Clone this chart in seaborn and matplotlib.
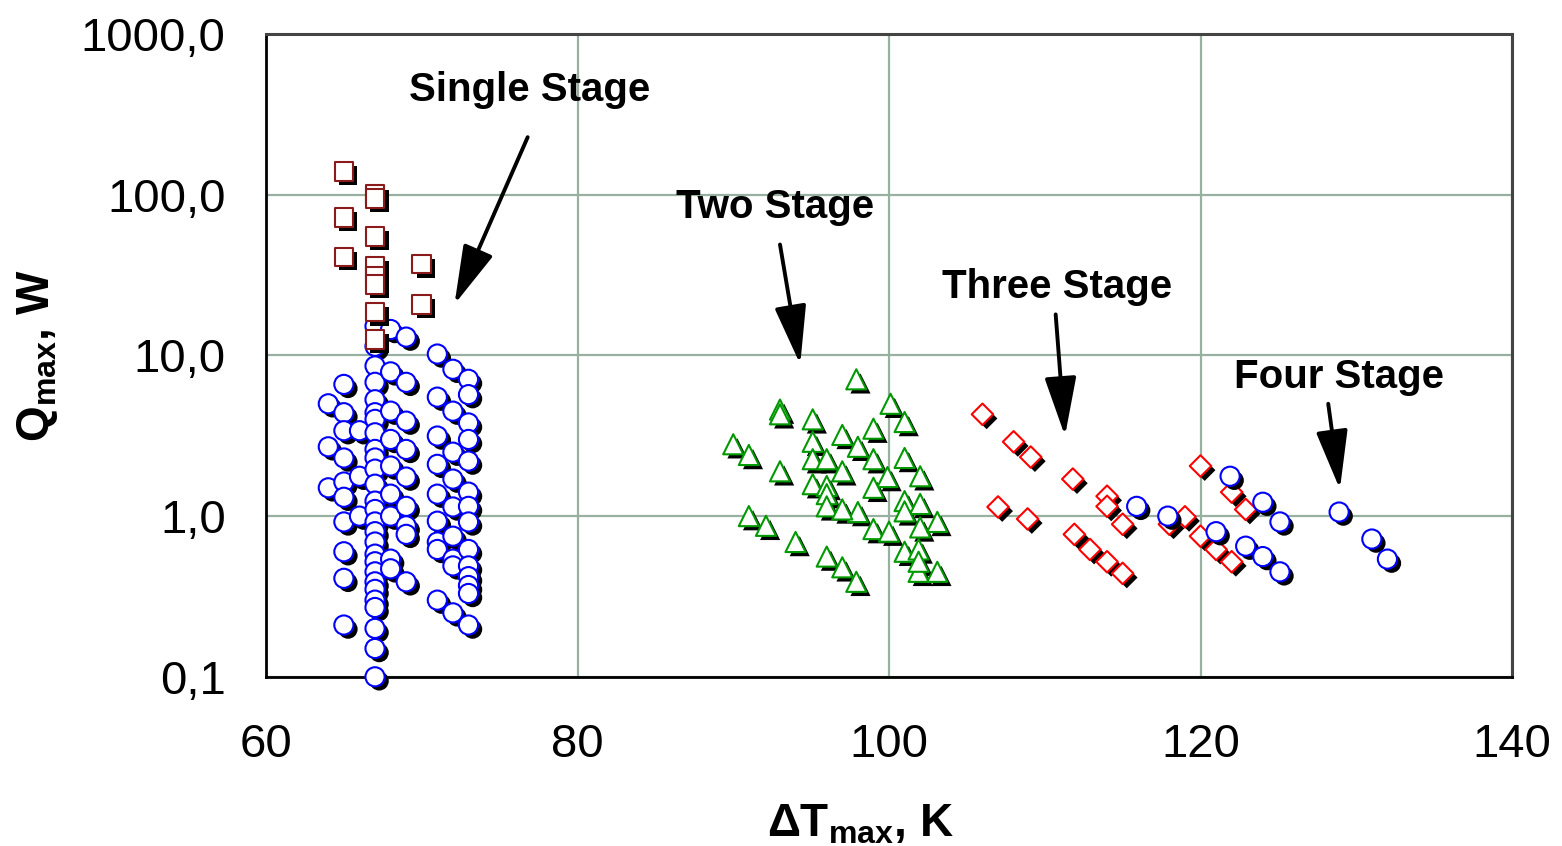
import matplotlib
matplotlib.use("Agg")
import matplotlib.pyplot as plt
import matplotlib.patheffects as pe
import seaborn as sns
import pandas as pd

# ---------------- data ----------------
# Single stage - squares (dark red)
sq_x = [65, 67, 67, 65, 67, 65, 67, 67, 67, 70, 70, 67, 67]
sq_y = [140, 100, 95, 72, 55, 41, 36, 31, 27.7, 37, 20.8, 18.6, 12.6]

# Single stage - circles (blue)
c64 = [5.0, 2.7, 1.5]
c65 = [6.6, 4.4, 3.4, 2.3, 1.63, 1.31, 0.92, 0.6, 0.41, 0.21]
c66 = [3.4, 1.77, 1.0]
c67 = [15.2, 11.4, 8.6, 6.8, 5.3, 4.4, 4.0, 3.3, 2.6, 2.3, 1.96, 1.58, 1.24,
       1.1, 0.92, 0.8, 0.69, 0.58, 0.52, 0.45, 0.39, 0.35, 0.30, 0.27, 0.20,
       0.15, 0.10]
c68 = [14.5, 7.9, 4.5, 3.0, 2.05, 1.37, 1.0, 0.54, 0.47]
c69 = [13.0, 6.8, 3.9, 2.6, 1.75, 1.15, 0.87, 0.77, 0.39]
c71 = [10.2, 5.5, 3.15, 2.1, 1.37, 0.93, 0.69, 0.62, 0.30]
c72 = [8.2, 4.5, 2.5, 1.7, 1.14, 0.75, 0.54, 0.49, 0.25]
c73 = [7.1, 5.7, 3.8, 3.0, 2.2, 1.41, 1.15, 0.92, 0.62, 0.49, 0.42, 0.37,
       0.33, 0.21]
single_cols = {64: c64, 65: c65, 66: c66, 67: c67, 68: c68, 69: c69,
               71: c71, 72: c72, 73: c73}

# Two stage - triangles (green)
tri_x = [97.9, 100.1, 101.0, 93.0, 93.0, 95.1, 97.0, 99.0, 98.0, 95.1, 90.0,
         91.0, 95.1, 96.0, 99.0, 101.0, 97.0, 93.0, 99.9, 102.0, 95.1, 96.0,
         96.0, 96.0, 99.0, 101.0, 102.0, 101.0, 98.0, 97.0, 91.0, 92.1, 99.0,
         100.0, 102.0, 103.1, 94.0, 96.0, 97.0, 97.9, 101.0, 101.9, 101.9,
         103.1, 101.9]
tri_y = [7.1, 5.0, 3.85, 4.6, 4.3, 4.0, 3.2, 3.5, 2.7, 2.9, 2.8,
         2.4, 2.26, 2.26, 2.26, 2.3, 1.9, 1.9, 1.75, 1.77, 1.58, 1.54,
         1.37, 1.15, 1.5, 1.24, 1.19, 1.07, 1.06, 1.1, 1.0, 0.87, 0.83,
         0.8, 0.85, 0.92, 0.69, 0.56, 0.48, 0.39, 0.6, 0.62, 0.45,
         0.45, 0.52]

# Three stage - diamonds (red)
dia_x = [106.0, 108.0, 109.1, 111.8, 114.0, 114.0, 115.0, 107.0, 108.9, 111.9,
         112.9, 114.0, 115.0, 120.0, 119.0, 118.0, 120.0, 122.0, 122.9, 121.0,
         122.0]
dia_y = [4.3, 2.9, 2.33, 1.70, 1.33, 1.15, 0.89, 1.14, 0.96, 0.77,
         0.62, 0.52, 0.44, 2.05, 0.99, 0.89, 0.75, 1.41, 1.1, 0.62,
         0.52]

# Three / four stage - circles (blue)
hc_x = [115.9, 117.9, 121.0, 121.9, 124.0, 125.1, 122.9, 124.0, 125.1,
        128.9, 131.0, 132.0]
hc_y = [1.15, 1.0, 0.8, 1.77, 1.22, 0.92, 0.65, 0.56, 0.45,
        1.06, 0.72, 0.54]

x_ticks = [60, 80, 100, 120, 140]
y_ticks = [0.1, 1, 10, 100, 1000]
y_tick_labels = ["0,1", "1,0", "10,0", "100,0", "1000,0"]

labels = ["Single Stage", "Two Stage", "Three Stage", "Four Stage"]
label_pos = [(76.95, 450), (92.7, 84), (110.8, 26.6), (128.9, 7.3)]
arrow_tail = [(76.8, 228), (93.0, 49), (110.7, 18), (128.2, 5.0)]
arrow_tip = [(72.1, 20.8), (94.3, 8.8), (111.3, 3.15), (128.95, 1.47)]

# ---------------- frames ----------------
sc_x, sc_y = [], []
for xv, ys in single_cols.items():
    sc_x += [xv] * len(ys)
    sc_y += ys
df_sc = pd.DataFrame({"dT": sc_x, "Q": sc_y})
df_sq = pd.DataFrame({"dT": sq_x, "Q": sq_y})
df_tri = pd.DataFrame({"dT": tri_x, "Q": tri_y})
df_dia = pd.DataFrame({"dT": dia_x, "Q": dia_y})
df_hc = pd.DataFrame({"dT": hc_x, "Q": hc_y})

# ---------------- plot ----------------
sns.set_style("white")
plt.rcParams["font.family"] = ["Liberation Sans", "DejaVu Sans"]
plt.rcParams["text.color"] = "black"

fig = plt.figure(figsize=(15.62, 8.46), dpi=100)
ax = fig.add_axes([0.1703, 0.2, 0.968 - 0.1703, 0.9598 - 0.2])

shadow = [pe.SimplePatchShadow(offset=(3.0, -3.0), shadow_rgbFace="black",
                               alpha=1.0), pe.Normal()]

def draw(df, marker, ec, size):
    sns.scatterplot(data=df, x="dT", y="Q", ax=ax, marker=marker, s=size,
                    color="white", edgecolor=ec, linewidth=1.5, legend=False,
                    zorder=3, clip_on=False)
    ax.collections[-1].set_path_effects(shadow)

draw(df_sc, "o", "#0000FF", 190)
draw(df_sq, "s", "#8B1A1A", 180)
draw(df_tri, "^", "#009900", 210)
draw(df_dia, "D", "#FF0000", 120)
draw(df_hc, "o", "#0000FF", 190)

ax.set_yscale("log")
ax.set_xlim(60, 140)
ax.set_ylim(0.1, 1000)
ax.set_xticks(x_ticks)
ax.set_xticklabels([str(t) for t in x_ticks])
ax.set_yticks(y_ticks)
ax.set_yticklabels(y_tick_labels)
ax.minorticks_off()
ax.tick_params(axis="both", which="major", labelsize=34, length=11, width=1.5,
               direction="out", color="black", labelcolor="black")
ax.tick_params(axis="x", pad=22)
ax.tick_params(axis="y", pad=18)
ax.grid(True, color="#98B0A0", linewidth=1.6, zorder=0)
ax.set_axisbelow(True)

for s in ["left", "bottom"]:
    ax.spines[s].set_color("black")
    ax.spines[s].set_linewidth(2)
for s in ["top", "right"]:
    ax.spines[s].set_color("#444444")
    ax.spines[s].set_linewidth(2.2)

ax.set_xlabel(r"ΔT$_{\mathregular{max}}$, K", fontsize=33, fontweight="bold",
              color="black")
ax.set_ylabel(r"Q$_{\mathregular{max}}$, W", fontsize=33, fontweight="bold",
              color="black")
ax.xaxis.set_label_coords(0.477, -0.195)
ax.yaxis.set_label_coords(-0.165, 0.5)

for lab, pos, tail, tip in zip(labels, label_pos, arrow_tail, arrow_tip):
    ax.text(pos[0], pos[1], lab, fontsize=29, fontweight="bold",
            ha="center", va="center", zorder=5, color="black")
    ax.annotate("", xy=tip, xytext=tail,
                arrowprops=dict(arrowstyle="-|>,head_length=1.3,head_width=0.35",
                                color="black", lw=2.8, mutation_scale=28,
                                shrinkA=0, shrinkB=0), zorder=5)

fig.savefig("out.png", dpi=100)
